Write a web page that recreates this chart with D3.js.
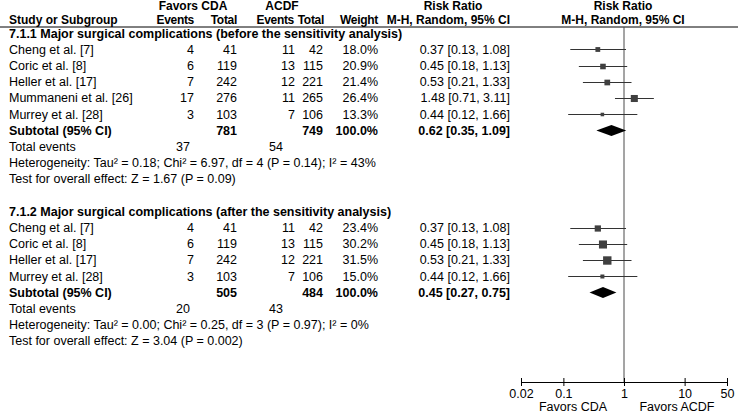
<!DOCTYPE html>
<html>
<head>
<meta charset="utf-8">
<script src="https://cdn.jsdelivr.net/npm/d3@7"></script>
<style>
  html, body { margin: 0; padding: 0; background: #fff; }
  svg { display: block; }
  text { font-family: "Liberation Sans", Arial, sans-serif; font-size: 12.5px; fill: #000; }
  .b { font-weight: bold; }
  .hd { font-size: 12px; }
</style>
</head>
<body>
<div id="chart"></div>
<script>
// ---- Data ----
const studies1     = ["Cheng et al. [7]", "Coric et al. [8]", "Heller et al. [17]", "Mummaneni et al. [26]", "Murrey et al. [28]"];
const cdaEvents1   = [4, 6, 7, 17, 3];
const cdaTotal1    = [41, 119, 242, 276, 103];
const acdfEvents1  = [11, 13, 12, 11, 7];
const acdfTotal1   = [42, 115, 221, 265, 106];
const weights1     = [18.0, 20.9, 21.4, 26.4, 13.3];
const rr1          = [0.37, 0.45, 0.53, 1.48, 0.44];
const lo1          = [0.13, 0.18, 0.21, 0.71, 0.12];
const hi1          = [1.08, 1.13, 1.33, 3.11, 1.66];
const subtotal1    = [781, 749, 0.62, 0.35, 1.09];   // cdaTotal, acdfTotal, rr, lo, hi
const totEvents1   = [37, 54];
const het1 = "Heterogeneity: Tau\u00b2 = 0.18; Chi\u00b2 = 6.97, df = 4 (P = 0.14); I\u00b2 = 43%";
const test1 = "Test for overall effect: Z = 1.67 (P = 0.09)";
const title1 = "7.1.1 Major surgical complications (before the sensitivity analysis)";

const studies2     = ["Cheng et al. [7]", "Coric et al. [8]", "Heller et al. [17]", "Murrey et al. [28]"];
const cdaEvents2   = [4, 6, 7, 3];
const cdaTotal2    = [41, 119, 242, 103];
const acdfEvents2  = [11, 13, 12, 7];
const acdfTotal2   = [42, 115, 221, 106];
const weights2     = [23.4, 30.2, 31.5, 15.0];
const rr2          = [0.37, 0.45, 0.53, 0.44];
const lo2          = [0.13, 0.18, 0.21, 0.12];
const hi2          = [1.08, 1.13, 1.33, 1.66];
const subtotal2    = [505, 484, 0.45, 0.27, 0.75];
const totEvents2   = [20, 43];
const het2 = "Heterogeneity: Tau\u00b2 = 0.00; Chi\u00b2 = 0.25, df = 3 (P = 0.97); I\u00b2 = 0%";
const test2 = "Test for overall effect: Z = 3.04 (P = 0.002)";
const title2 = "7.1.2 Major surgical complications (after the sensitivity analysis)";

const axisTicks    = [0.02, 0.1, 1, 10, 50];
const axisLabels   = ["0.02", "0.1", "1", "10", "50"];

// ---- Layout ----
const W = 738, H = 415;
const svg = d3.select("#chart").append("svg").attr("width", W).attr("height", H);
svg.append("rect").attr("width", W).attr("height", H).attr("fill", "#fff");

const x = d3.scaleLog().domain([0.02, 50]).range([521, 727]);
const rowY = d3.scaleLinear().domain([0, 1]).range([33.2, 49.4]); // row index -> center y
const sq = d3.scaleLinear().domain([0, 31.5]).range([0, 8.4]);

const col = { name: 9, cdaE: 194, cdaN: 237, acdfE: 295, acdfN: 323, w: 378, ci: 510 };
const fmt2 = d3.format(".2f");
const ciText = (r, l, h) => `${fmt2(r)} [${fmt2(l)}, ${fmt2(h)}]`;

function txt(xp, yc, s, anchor, bold, extra) {
  const t = svg.append("text").attr("x", xp).attr("y", yc + 4.4)
    .attr("text-anchor", anchor || "start")
    .attr("class", bold ? "b" : null).text(s);
  if (extra) extra(t);
  return t;
}
const head = t => t.classed("hd", true);
const tight = t => t.classed("hd", true).attr("letter-spacing", "-0.3");

// Headers
const h1 = 5.6, h2 = 19.6;
txt(193, h1, "Favors CDA", "middle", true, head);
txt(282, h1, "ACDF", "middle", true, head);
txt(453, h1, "Risk Ratio", "middle", true, head);
txt(623, h1, "Risk Ratio", "middle", true, head);
txt(col.name, h2, "Study or Subgroup", "start", true, head);
txt(col.cdaE, h2, "Events", "end", true, tight);
txt(col.cdaN, h2, "Total", "end", true, tight);
txt(col.acdfE - 1, h2, "Events", "end", true, tight);
txt(col.acdfN + 1, h2, "Total", "end", true, tight);
txt(col.w, h2, "Weight", "end", true, tight);
txt(col.ci, h2, "M-H, Random, 95% CI", "end", true, head);
txt(623, h2, "M-H, Random, 95% CI", "middle", true, head);
svg.append("line").attr("x1", 0).attr("x2", W).attr("y1", 27).attr("y2", 27)
  .attr("stroke", "#000").attr("stroke-width", 1);

// null line
const axisY = 382;
svg.append("line").attr("x1", x(1)).attr("x2", x(1)).attr("y1", 27).attr("y2", axisY)
  .attr("stroke", "#4a4a4a").attr("stroke-width", 1);

function section(start, title, names, ce, cn, ae, an, w, rr, lo, hi, sub, tot, het, test) {
  txt(col.name, rowY(start), title, "start", true);
  names.forEach((n, i) => {
    const yc = rowY(start + 1 + i);
    txt(col.name, yc, n);
    txt(col.cdaE, yc, ce[i], "end");
    txt(col.cdaN, yc, cn[i], "end");
    txt(col.acdfE, yc, ae[i], "end");
    txt(col.acdfN, yc, an[i], "end");
    txt(col.w, yc, w[i].toFixed(1) + "%", "end");
    txt(col.ci, yc, ciText(rr[i], lo[i], hi[i]), "end");
    svg.append("line").attr("x1", x(lo[i])).attr("x2", x(hi[i]))
      .attr("y1", Math.round(yc) + 0.5).attr("y2", Math.round(yc) + 0.5)
      .attr("stroke", "#333").attr("stroke-width", 1);
    const s = sq(w[i]);
    svg.append("rect").attr("x", x(rr[i]) - s / 2).attr("y", Math.round(yc) + 0.5 - s / 2)
      .attr("width", s).attr("height", s).attr("fill", "#404040");
  });
  const ys = rowY(start + 1 + names.length);
  txt(col.name, ys, "Subtotal (95% CI)", "start", true);
  txt(col.cdaN, ys, sub[0], "end", true);
  txt(col.acdfN, ys, sub[1], "end", true);
  txt(col.w, ys, "100.0%", "end", true);
  txt(col.ci, ys, ciText(sub[2], sub[3], sub[4]), "end", true);
  const yd = Math.round(ys) + 0.5, hd = 5.5;
  svg.append("path")
    .attr("d", `M${x(sub[3])},${yd} L${x(sub[2])},${yd - hd} L${x(sub[4])},${yd} L${x(sub[2])},${yd + hd} Z`)
    .attr("fill", "#000");
  const yt = rowY(start + 2 + names.length);
  txt(col.name, yt, "Total events");
  txt(col.cdaE - 4, yt, tot[0], "end");
  txt(col.acdfE - 12, yt, tot[1], "end");
  txt(col.name, rowY(start + 3 + names.length), het);
  txt(col.name, rowY(start + 4 + names.length), test);
}

section(0, title1, studies1, cdaEvents1, cdaTotal1, acdfEvents1, acdfTotal1, weights1, rr1, lo1, hi1, subtotal1, totEvents1, het1, test1);
section(11, title2, studies2, cdaEvents2, cdaTotal2, acdfEvents2, acdfTotal2, weights2, rr2, lo2, hi2, subtotal2, totEvents2, het2, test2);

// Axis
const axis = d3.axisBottom(x).tickValues(axisTicks).tickFormat((d, i) => axisLabels[i]).tickSize(4).tickSizeOuter(0);
const ag = svg.append("g").attr("transform", `translate(0,${axisY})`).call(axis);
ag.select(".domain").attr("stroke", "#000");
ag.selectAll(".tick line").attr("y1", -4).attr("stroke", "#000");
ag.selectAll(".tick text").attr("y", 7).attr("font-size", 12.5).attr("font-family", "Liberation Sans, Arial, sans-serif").attr("fill", "#000");
txt(573, 406.5, "Favors CDA", "middle");
txt(677, 406.5, "Favors ACDF", "middle");
</script>
</body>
</html>
